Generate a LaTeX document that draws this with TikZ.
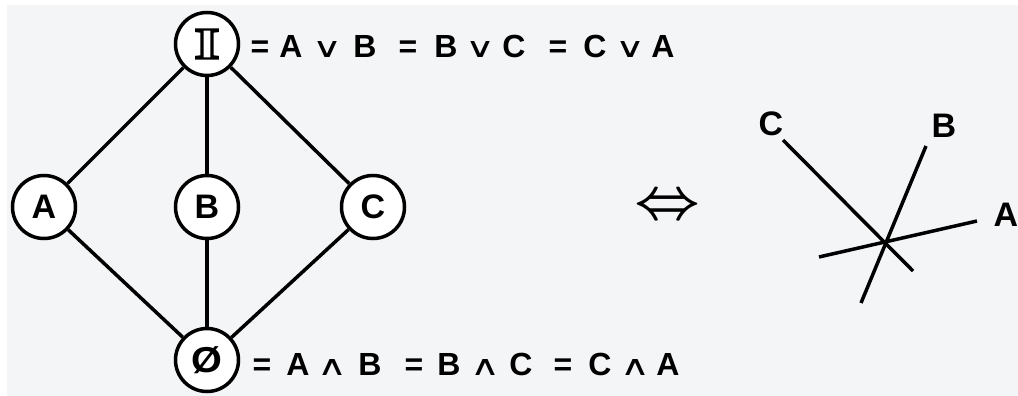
\documentclass[tikz,border=0pt]{standalone}
\usepackage{fontspec}
\usepackage{graphicx,bm}
\setmainfont{Liberation Sans}
\newfontfamily\serifI{Liberation Serif}
\newfontfamily\djv{DejaVu Sans}
\definecolor{bgc}{HTML}{F4F5F7}
\newcommand{\hollowI}{\scalebox{1.45}[1]{\serifI\bfseries\special{pdf:literal direct 1 Tr 2.2 w}I\special{pdf:literal direct 0 Tr}}}
\newcommand{\opsym}[1]{\resizebox{30pt}{16pt}{\djv #1}}
\begin{document}
\begin{tikzpicture}[x=1pt,y=-1pt,
  vtx/.style={circle,draw,line width=3.5pt,fill=white,minimum size=63pt,inner sep=0pt,font=\fontsize{34}{34}\selectfont\bfseries},
  edge/.style={line width=3.5pt},
  eqtxt/.style={font=\fontsize{32}{32}\selectfont\bfseries,anchor=base,inner sep=0pt},
  optxt/.style={anchor=base,inner sep=0pt},
  lbl/.style={font=\fontsize{34}{34}\selectfont\bfseries,inner sep=0pt},
  axis/.style={line width=3.5pt}]
\useasboundingbox (0,0) rectangle (1018,396);
\fill[white] (0,0) rectangle (1018,396);
\fill[bgc] (7,5) rectangle (1018,396);
% lattice
\node[vtx,font=\fontsize{44}{44}\selectfont] (top) at (207,44) {\hollowI};
\node[vtx] (a) at (44,207) {A};
\node[vtx] (b) at (207,207) {B};
\node[vtx] (c) at (373,207) {C};
\node[vtx,font=\fontsize{36}{36}\selectfont\bfseries] (bot) at (207,360) {\scalebox{1.1}[1]{Ø}};
\draw[edge] (top) -- (a);
\draw[edge] (top) -- (b);
\draw[edge] (top) -- (c);
\draw[edge] (a) -- (bot);
\draw[edge] (b) -- (bot);
\draw[edge] (c) -- (bot);
% top equation
\foreach \x/\t [count=\i] in {260/=,291/A,365/B,408/=,446/B,514/C,558/=,595/C,663/A}
  \node[eqtxt] (t\i) at (\x,58) {\t};
\foreach \x [count=\i] in {327,480,630}
  \node[optxt] (tv\i) at (\x,58) {\opsym{∨}};
% bottom equation
\foreach \x/\t [count=\i] in {262/=,298/A,370/B,414/=,449/B,521/C,563/=,600/C,668/A}
  \node[eqtxt] (b\i) at (\x,375) {\t};
\foreach \x [count=\i] in {332,485,635}
  \node[optxt] (bw\i) at (\x,375) {\opsym{∧}};
% equivalence
\node[inner sep=0pt] (iff) at (668,207) {\resizebox{66pt}{!}{$\bm{\Leftrightarrow}$}};
% lines
\coordinate (cs) at (783,140);
\coordinate (ce) at (913,271);
\coordinate (bs) at (926,146);
\coordinate (be) at (861,303);
\coordinate (as) at (977,221);
\coordinate (ae) at (819,257);
\draw[axis] (cs) -- (ce);
\draw[axis] (bs) -- (be);
\draw[axis] (as) -- (ae);
\node[lbl] (lc) at (771,124) {C};
\node[lbl] (lb) at (944,126) {B};
\node[lbl] (la) at (1006,215) {A};
\end{tikzpicture}
\end{document}
